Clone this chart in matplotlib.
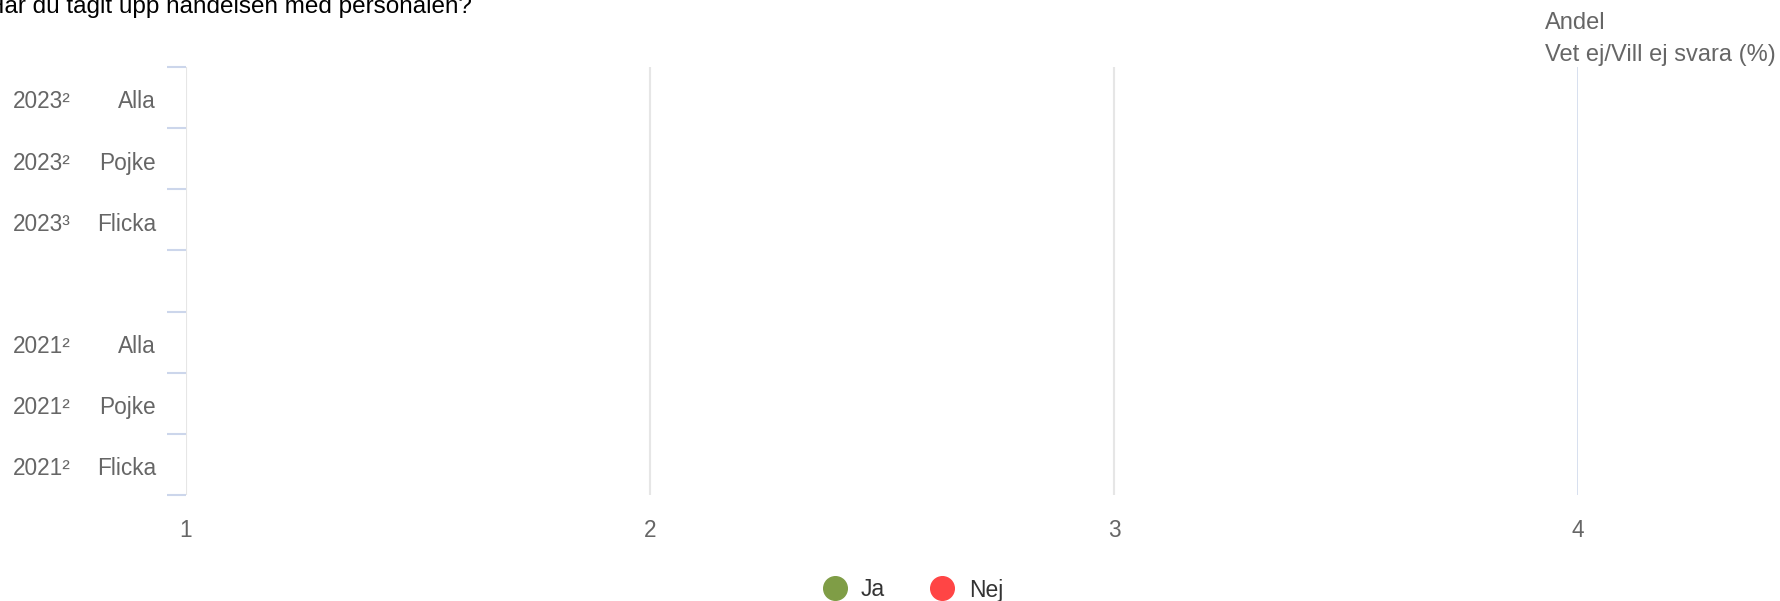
import numpy as np
import matplotlib
matplotlib.use('Agg')
import matplotlib.pyplot as plt
import matplotlib.transforms as mtransforms
from matplotlib.lines import Line2D

plt.rcParams['font.family'] = ['Liberation Sans', 'DejaVu Sans']

# categories, top to bottom (empty row separates the years)
years = ['2023²', '2023²', '2023³', '', '2021²', '2021²', '2021²']
groups = ['Alla', 'Pojke', 'Flicka', '', 'Alla', 'Pojke', 'Flicka']
# no bars are visible in the chart
ja_values = [np.nan, np.nan, np.nan, np.nan, np.nan, np.nan, np.nan]
nej_values = [np.nan, np.nan, np.nan, np.nan, np.nan, np.nan, np.nan]
x_ticks = [1, 2, 3, 4]

title = 'Har du tagit upp händelsen med personalen?'
axis_title = 'Andel\nVet ej/Vill ej svara (%)'
ja_color = '#7f9d46'
nej_color = '#ff4545'
label_color = '#666666'

W, H = 1781, 601
fig = plt.figure(figsize=(W / 100, H / 100), dpi=100)
ax = fig.add_axes([186 / W, 1 - 495 / H, (1578 - 186) / W, (495 - 67) / H])

n = len(groups)
pos = np.arange(n)
ax.barh(pos, ja_values, left=1, color=ja_color, height=0.7)
ax.barh(pos, nej_values, left=1, color=nej_color, height=0.7)

ax.set_xlim(1, 4)
ax.set_ylim(n - 0.5, -0.5)

for s in ax.spines.values():
    s.set_visible(False)

# vertical grid lines
for v in x_ticks[:-1]:
    ax.axvline(v, color='#e6e6e6', lw=1.5, zorder=0)
ax.axvline(x_ticks[-1], color='#ccd6eb', lw=1.8, zorder=0)

fs = 16.3
ax.set_xticks(x_ticks)
ax.set_xticklabels([str(t) for t in x_ticks])
ax.tick_params(axis='x', length=0, pad=17, labelsize=fs, labelcolor=label_color)

ax.set_yticks(pos + 0.03)
ax.set_yticklabels(groups, va='center_baseline')
ax.tick_params(axis='y', which='major', length=0, pad=21.6, labelsize=fs,
               labelcolor=label_color)
ax.set_yticks(np.arange(-0.5, n, 1), minor=True)
ax.tick_params(axis='y', which='minor', length=14, width=1.5, color='#ccd6eb')

# year labels at the far left
trans = mtransforms.blended_transform_factory(fig.transFigure, ax.transData)
for i, y in enumerate(years):
    ax.text(13 / W, i + 0.03, y, transform=trans, ha='left', va='center_baseline',
            fontsize=fs, color=label_color)

fig.text(-13 / W, 1 - 13 / H, title, ha='left', va='baseline',
         fontsize=17.5, color='#000000')
fig.text(1545 / W, 1 - 39 / H, axis_title, ha='left', va='center',
         fontsize=17, color=label_color, linespacing=1.6)

handles = [Line2D([], [], marker='o', ls='', ms=17, color=ja_color),
           Line2D([], [], marker='o', ls='', ms=17, color=nej_color)]
fig.legend(handles, ['Ja', 'Nej'], loc='center', bbox_to_anchor=(913 / W, 1 - 590 / H),
           ncol=2, frameon=False, fontsize=16.5, handletextpad=0.65,
           columnspacing=2.0, labelcolor='#333333', handlelength=1.0)

fig.savefig('out.png', dpi=100)
